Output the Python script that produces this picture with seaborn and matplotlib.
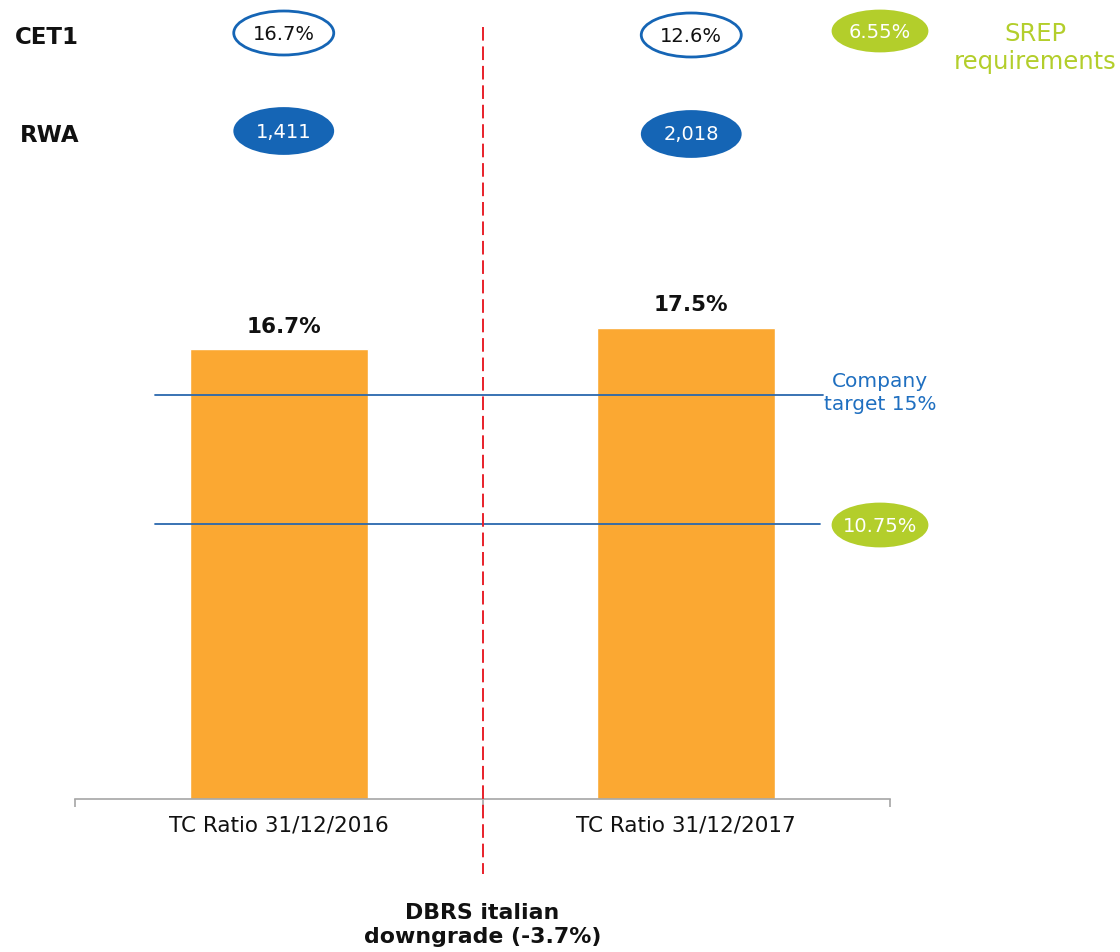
import matplotlib
matplotlib.use("Agg")
import matplotlib.pyplot as plt
from matplotlib.patches import Ellipse
import seaborn as sns
import pandas as pd

# ---- data ----
categories = ["TC Ratio 31/12/2016", "TC Ratio 31/12/2017"]
tc_ratio = [16.7, 17.5]
tc_labels = ["16.7%", "17.5%"]
cet1_labels = ["16.7%", "12.6%"]
rwa_labels = ["1,411", "2,018"]
company_target = 15.0
srep_line_level = 10.2
srep_total_label = "10.75%"
srep_cet1_label = "6.55%"

sns.set_style("white")
plt.rcParams["font.family"] = ["DejaVu Sans"]

ORANGE = "#FBA832"
BLUE = "#1565B5"
LINE_BLUE = "#2A68AE"
GREEN = "#B3CE2B"
RED = "#E8202A"

W, H = 1120, 953
fig = plt.figure(figsize=(W / 100, H / 100), dpi=100)
ax = fig.add_axes([75 / W, 1 - 800 / H, (890 - 75) / W, 800 / H])

df = pd.DataFrame({"cat": categories, "val": tc_ratio})
sns.barplot(data=df, x="cat", y="val", color=ORANGE, saturation=1,
            width=0.437, ax=ax)

ppu = 26.93  # pixels per unit
ax.set_ylim(0, 800 / ppu)
ax.set_xlim(-0.5, 1.5)
ax.set_xlabel("")
ax.set_ylabel("")
ax.set_yticks([])
for s in ["left", "right", "top"]:
    ax.spines[s].set_visible(False)
ax.spines["bottom"].set_color("#A6A6A6")
ax.spines["bottom"].set_linewidth(1.2)
ax.set_xticks([0, 1])
ax.set_xticklabels(categories, fontsize=15.5, color="#111111")
ax.tick_params(axis="x", which="major", length=0, pad=11)
ax.set_xticks([-0.5, 0.5, 1.5], minor=True)
ax.tick_params(axis="x", which="minor", bottom=True, length=6, width=1.2,
               color="#A6A6A6", direction="out")

def py(p):
    return (800 - p) / ppu

def pxx(p):
    return (p - 75) / 407.5 - 0.5

# bar value labels
for i, (v, lab) in enumerate(zip(tc_ratio, tc_labels)):
    ax.annotate(lab, (i, v), xytext=(3.5, 17), textcoords="offset points",
                ha="center", va="center", fontsize=15.5, fontweight="bold",
                color="#111111", annotation_clip=False)

# reference lines
ax.plot([pxx(155), pxx(823)], [company_target, company_target],
        color=LINE_BLUE, lw=1.3, clip_on=False)
ax.plot([pxx(155), pxx(820)], [srep_line_level, srep_line_level],
        color=LINE_BLUE, lw=1.3, clip_on=False)

# red dashed divider
ax.plot([0.5, 0.5], [py(28), py(875)], color=RED, lw=1.4,
        ls=(0, (7, 3)), clip_on=False, zorder=5)

def ellipse(xc, yc, wpx, hpx, face, edge, text, tcolor, weight="normal", fs=14):
    e = Ellipse((xc, yc), wpx / 407.5, hpx / ppu, facecolor=face,
                edgecolor=edge, lw=2, clip_on=False, zorder=6)
    ax.add_patch(e)
    ax.text(xc, yc, text, ha="center", va="center", fontsize=fs,
            color=tcolor, fontweight=weight, zorder=7, clip_on=False)

# CET1 / RWA rows
for i in range(2):
    ellipse(i + (284 - 279) / 407.5, py(34 if i == 0 else 36), 100, 44,
            "white", BLUE, cet1_labels[i], "#111111")
    ellipse(i + (284 - 279) / 407.5, py(132 if i == 0 else 135), 98, 45,
            BLUE, BLUE, rwa_labels[i], "white")

ax.text(pxx(15), py(38), "CET1", ha="left", va="center", fontsize=16.5,
        fontweight="bold", color="#111111")
ax.text(pxx(20), py(136), "RWA", ha="left", va="center", fontsize=16.5,
        fontweight="bold", color="#111111")

# SREP
ellipse(pxx(880), py(32), 94, 40, GREEN, GREEN, srep_cet1_label, "white",
        fs=14)
ax.text(pxx(1035), py(48), "SREP\nrequirements", ha="center", va="center",
        fontsize=17.5, color=GREEN, fontweight="normal", linespacing=1.2)
ellipse(pxx(880), py(526), 94, 42, GREEN, GREEN, srep_total_label, "white",
        fs=14)

# Company target
ax.text(pxx(880), py(393), "Company\ntarget 15%", ha="center", va="center",
        fontsize=14.5, color="#1F6FC0", linespacing=1.25)

# DBRS annotation
ax.text(0.5, py(925), "DBRS italian\ndowngrade (-3.7%)", ha="center",
        va="center", fontsize=15.8, fontweight="bold", color="#111111",
        linespacing=1.3, clip_on=False)

fig.savefig("out.png", dpi=100)
